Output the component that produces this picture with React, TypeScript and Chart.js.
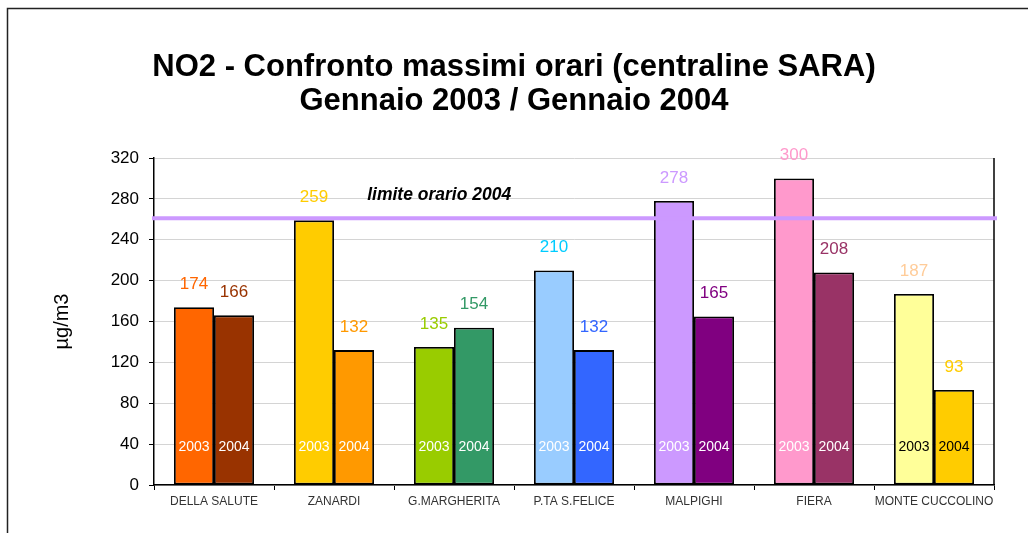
import React, { useEffect, useRef } from "react";
import { Chart, registerables } from "chart.js";

Chart.register(...registerables);

const categories = [
  "DELLA SALUTE",
  "ZANARDI",
  "G.MARGHERITA",
  "P.TA S.FELICE",
  "MALPIGHI",
  "FIERA",
  "MONTE CUCCOLINO",
];
const values2003 = [174, 259, 135, 210, 278, 300, 187];
const values2004 = [166, 132, 154, 132, 165, 208, 93];
const colors2003 = ["#FF6600", "#FFCC00", "#99CC00", "#99CCFF", "#CC99FF", "#FF99CC", "#FFFF99"];
const colors2004 = ["#993300", "#FF9900", "#339966", "#3366FF", "#800080", "#993366", "#FFCC00"];
const labelColors2003 = ["#FF6600", "#FFCC00", "#99CC00", "#00CCFF", "#CC99FF", "#FF99CC", "#FFCC99"];
const labelColors2004 = ["#993300", "#FF9900", "#339966", "#3366FF", "#800080", "#993366", "#FFCC00"];
const yearLabelColors = ["#FFFFFF", "#FFFFFF", "#FFFFFF", "#FFFFFF", "#FFFFFF", "#FFFFFF", "#000000"];
const yearLabels = ["2003", "2004"];
const limitValue = 261;
const limitLabel = "limite orario 2004";
const yearLabelValue = 37;
const titleLines = ["NO2 - Confronto massimi orari (centraline SARA)", "Gennaio 2003 / Gennaio 2004"];
const yTitle = "µg/m3";
const yMin = 0;
const yMax = 320;
const yStep = 40;

const FONT = "'Liberation Sans', Arial, sans-serif";

const overlay = {
  id: "overlay",
  beforeDraw(chart: any) {
    const { ctx, width, height } = chart;
    ctx.save();
    ctx.fillStyle = "#FFFFFF";
    ctx.fillRect(0, 0, width, height);
    ctx.strokeStyle = "#222";
    ctx.lineWidth = 1.5;
    ctx.beginPath();
    ctx.moveTo(7.5, height);
    ctx.lineTo(7.5, 8.5);
    ctx.lineTo(width, 8.5);
    ctx.stroke();
    ctx.restore();
  },
  afterDatasetsDraw(chart: any) {
    const { ctx, chartArea, scales } = chart;
    const y = scales.y;
    ctx.save();
    // plot area right border
    ctx.strokeStyle = "#000";
    ctx.lineWidth = 1.5;
    ctx.beginPath();
    ctx.moveTo(chartArea.right, chartArea.top);
    ctx.lineTo(chartArea.right, chartArea.bottom);
    ctx.stroke();

    // limit line
    const ly = y.getPixelForValue(limitValue);
    ctx.strokeStyle = "#CC99FF";
    ctx.lineWidth = 4;
    ctx.beginPath();
    ctx.moveTo(chartArea.left - 2, ly);
    ctx.lineTo(chartArea.right + 3, ly);
    ctx.stroke();

    ctx.fillStyle = "#000";
    ctx.font = `italic bold 17.5px ${FONT}`;
    ctx.textAlign = "center";
    ctx.textBaseline = "middle";
    ctx.fillText(limitLabel, chartArea.left + (chartArea.right - chartArea.left) * 0.3395, ly - 23);

    const labelColorSets = [labelColors2003, labelColors2004];
    const yearBase = y.getPixelForValue(yearLabelValue);
    for (let d = 0; d < 2; d++) {
      const meta = chart.getDatasetMeta(d);
      meta.data.forEach((el: any, j: number) => {
        ctx.font = `17px ${FONT}`;
        ctx.fillStyle = labelColorSets[d][j];
        const v = chart.data.datasets[d].data[j];
        ctx.fillText(String(v), el.x, el.y - 23);
        ctx.font = `14px ${FONT}`;
        ctx.fillStyle = yearLabelColors[j];
        ctx.fillText(yearLabels[d], el.x, yearBase);
      });
    }
    ctx.restore();
  },
};

export default function App() {
  const ref = useRef<HTMLCanvasElement>(null);
  useEffect(() => {
    if (!ref.current) return;
    const chart = new Chart(ref.current, {
      type: "bar",
      data: {
        labels: categories,
        datasets: [
          {
            label: yearLabels[0],
            data: values2003,
            backgroundColor: colors2003,
            borderColor: "#000",
            borderWidth: 1.8,
            borderSkipped: false,
          },
          {
            label: yearLabels[1],
            data: values2004,
            backgroundColor: colors2004,
            borderColor: "#000",
            borderWidth: 1.8,
            borderSkipped: false,
          },
        ],
      },
      options: {
        animation: false,
        responsive: false,
        maintainAspectRatio: false,
        datasets: { bar: { categoryPercentage: 0.6667, barPercentage: 1 } },
        layout: { padding: { left: 34, right: 34, top: 0, bottom: 0 } },
        plugins: {
          legend: { display: false },
          tooltip: { enabled: false },
          title: {
            display: true,
            text: titleLines,
            color: "#000",
            font: { family: FONT, size: 31, weight: "bold", lineHeight: 1.1 },
            padding: { top: 50.5, bottom: 39.3 },
          },
        },
        scales: {
          x: {
            afterFit: (s: any) => {
              s.height = 48;
            },
            grid: {
              display: true,
              drawOnChartArea: false,
              drawTicks: true,
              tickLength: 5,
              tickColor: "#000",
              offset: true,
            },
            border: { color: "#000", width: 1.5 },
            ticks: {
              color: "#333",
              font: { family: FONT, size: 12 },
              padding: 4,
              maxRotation: 0,
              autoSkip: false,
            },
          },
          y: {
            min: yMin,
            max: yMax,
            afterFit: (s: any) => {
              s.width = 120;
            },
            grid: {
              color: "#D4D4D4",
              lineWidth: 1,
              tickColor: "#000",
              tickLength: 5,
            },
            border: { color: "#000", width: 1.5 },
            ticks: {
              stepSize: yStep,
              color: "#000",
              font: { family: FONT, size: 17 },
              padding: 10,
            },
            title: {
              display: true,
              text: yTitle,
              color: "#000",
              font: { family: FONT, size: 20 },
              padding: { top: 16, bottom: 0 },
            },
          },
        },
      },
      plugins: [overlay],
    });
    return () => chart.destroy();
  }, []);
  return (
    <div style={{ position: "absolute", left: 0, top: 0, width: 1028, height: 533 }}>
      <canvas ref={ref} width={1028} height={533} style={{ width: 1028, height: 533, display: "block" }} />
    </div>
  );
}
